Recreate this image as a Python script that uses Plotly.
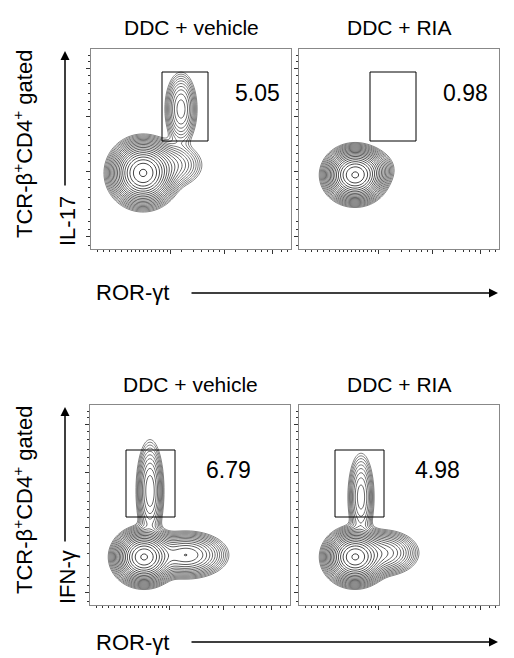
import numpy as np
import plotly.graph_objects as go

# panel titles, gate percentages, axis labels
titles = ["DDC + vehicle", "DDC + RIA", "DDC + vehicle", "DDC + RIA"]
gate_pct = ["5.05", "0.98", "6.79", "4.98"]
y_labels = ["IL-17", "IFN-γ"]
x_label = "ROR-γt"
side_label = "TCR-β<sup>+</sup>CD4<sup>+</sup> gated"

# populations per panel: (x center, y center, x sd, y sd, weight), axis units 0-100
pops = [
    [(26, 38, 6, 6, 0.90), (45, 70, 3.5, 8, 0.05), (40, 42, 7, 5, 0.05)],
    [(28, 37, 5.5, 5, 0.96), (36, 40, 5, 4, 0.035), (44, 68, 5, 8, 0.005)],
    [(27, 24, 5.5, 5, 0.75), (30, 57, 3, 11, 0.07), (48, 25, 8, 4.5, 0.18)],
    [(28, 24, 5.5, 5, 0.82), (31, 54, 3, 10, 0.05), (42, 26, 7, 4.5, 0.13)],
]
# gates: x0, x1, y0, y1
gates = [(35.5, 58.5, 54, 88.5), (35.5, 58.5, 54, 88.5),
         (18, 42.5, 44, 77.5), (18, 42.5, 44, 77.5)]

y_major = [6.5, 39, 66.5, 90.5]
y_minor = [2, 10, 14, 20, 26, 31, 35, 44, 48, 52, 57, 61, 70, 74, 78, 83, 87, 94, 97]
x_major = [39.5, 66.5, 90.5]
x_minor = [3, 6, 9, 12, 15, 18, 20, 22, 24, 26, 28, 30, 32, 34, 36, 38,
           45, 51, 55, 58.5, 61, 64, 72, 78, 82, 85, 88, 95, 98]

W, H = 514, 658
OFF = 8  # page body margin


def fx(px):
    return (px - OFF) / W


def fy(py):
    return 1 - (py - OFF) / H


# panel pixel boxes (left, right, top, bottom)
boxes = [(91, 291, 49, 249), (299, 499, 49, 249), (90, 290, 405, 605), (299, 499, 405, 605)]

gx = np.linspace(0, 100, 201)
gy = np.linspace(0, 100, 201)
X, Y = np.meshgrid(gx, gy)

fig = go.Figure()
font = "Liberation Sans, Arial, sans-serif"

for i, (l, r, t, b) in enumerate(boxes):
    n = "" if i == 0 else str(i + 1)
    dens = np.zeros_like(X)
    for cx, cy, sx, sy, w in pops[i]:
        dens += w / (sx * sy) * np.exp(-0.5 * (((X - cx) / sx) ** 2 + ((Y - cy) / sy) ** 2))
    z = np.log10(dens / dens.max() + 1e-12)
    fig.add_trace(go.Contour(
        x=gx, y=gy, z=z, xaxis="x" + n, yaxis="y" + n,
        contours=dict(coloring="lines", start=-2.3, end=-0.02, size=0.12),
        line=dict(width=0.8), colorscale=[[0, "#666"], [1, "#111"]],
        showscale=False, hoverinfo="skip"))
    ax = dict(domain=[fx(l), fx(r)], range=[0, 100], showgrid=False, zeroline=False,
              showline=True, mirror=True, linecolor="#888", linewidth=1,
              ticks="outside", ticklen=4, tickcolor="#333", showticklabels=False,
              minor=dict(tickvals=x_minor, ticks="outside", ticklen=2, tickcolor="#333"),
              tickvals=x_major, anchor="y" + n, fixedrange=True)
    ay = dict(domain=[fy(b), fy(t)], range=[0, 100], showgrid=False, zeroline=False,
              showline=True, mirror=True, linecolor="#888", linewidth=1,
              ticks="outside", ticklen=4, tickcolor="#333", showticklabels=False,
              minor=dict(tickvals=y_minor, ticks="outside", ticklen=2, tickcolor="#333"),
              tickvals=y_major, anchor="x" + n, fixedrange=True)
    fig.update_layout({"xaxis" + n: ax, "yaxis" + n: ay})
    x0, x1, y0, y1 = gates[i]
    fig.add_shape(type="rect", xref="x" + n, yref="y" + n, x0=x0, x1=x1, y0=y0, y1=y1,
                  line=dict(color="black", width=1))
    fig.add_annotation(xref="x" + n, yref="y" + n, x=(x1 + 100) / 2 + (4 if i < 2 else -2),
                       y=(y0 + y1) / 2 + 7, text=gate_pct[i], showarrow=False,
                       xanchor="center", yanchor="middle",
                       font=dict(size=23, color="black", family=font))
    fig.add_annotation(xref="paper", yref="paper", x=fx((l + r) / 2), y=fy(t - 21),
                       text=titles[i], showarrow=False, xanchor="center", yanchor="middle",
                       font=dict(size=21, color="black", family=font))

for row, (t, b) in enumerate([(49, 249), (405, 605)]):
    # y-axis label + arrow
    fig.add_annotation(xref="paper", yref="paper", x=fx(67), y=fy(b - 28),
                       text=y_labels[row], textangle=-90, showarrow=False,
                       xanchor="center", yanchor="middle",
                       font=dict(size=22, color="black", family=font))
    fig.add_annotation(xref="paper", yref="paper", x=fx(65), y=fy(t + 2),
                       ax=0, ay=(b - 62) - (t + 2), text="", showarrow=True,
                       arrowhead=2, arrowsize=1.2, arrowwidth=1.5, arrowcolor="black")
    fig.add_annotation(xref="paper", yref="paper", x=fx(23), y=fy((t + b - 10) / 2),
                       text=side_label, textangle=-90, showarrow=False,
                       xanchor="center", yanchor="middle",
                       font=dict(size=22, color="black", family=font))
    # x-axis label + arrow
    yl = b + (44 if row == 0 else 37)
    fig.add_annotation(xref="paper", yref="paper", x=fx(132), y=fy(yl),
                       text=x_label, showarrow=False, xanchor="center", yanchor="middle",
                       font=dict(size=22, color="black", family=font))
    fig.add_annotation(xref="paper", yref="paper", x=fx(498), y=fy(yl),
                       ax=-(498 - 190), ay=0, text="", showarrow=True,
                       arrowhead=2, arrowsize=1.2, arrowwidth=1.5, arrowcolor="black")

fig.update_layout(width=W, height=H, margin=dict(l=0, r=0, t=0, b=0),
                  paper_bgcolor="white", plot_bgcolor="white", showlegend=False)

fig.write_html("out.html")
